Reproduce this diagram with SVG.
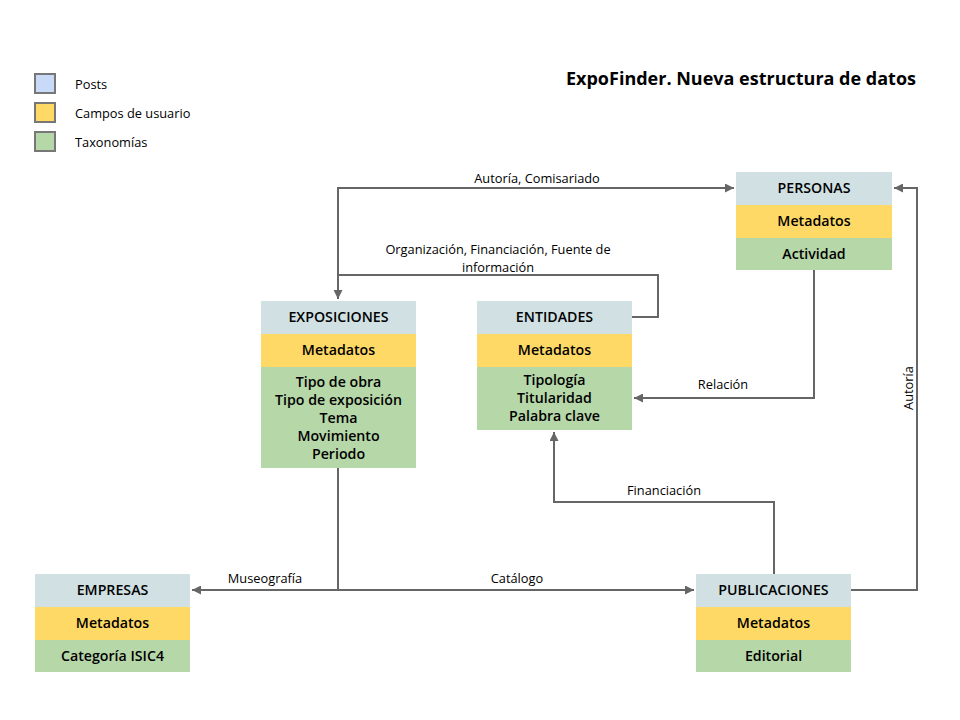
<svg xmlns="http://www.w3.org/2000/svg" width="960" height="720" viewBox="0 0 960 720">
<style>
.hd{fill:#d0e0e3}.md{fill:#ffd966}.tx{fill:#b6d7a8}
.nt{font-family:"Open Sans","DejaVu Sans",sans-serif;font-weight:600;font-size:14.2px;fill:#000;text-anchor:middle;dominant-baseline:central}
.lb{font-family:"Open Sans","DejaVu Sans",sans-serif;font-size:12.8px;fill:#000;text-anchor:middle}
.lg{font-family:"Open Sans","DejaVu Sans",sans-serif;font-size:12.8px;fill:#000;dominant-baseline:central}
.ln{fill:none;stroke:#666;stroke-width:2}
.ls{stroke:#777;stroke-width:2}
</style>
<defs>
<marker id="ah" viewBox="0 0 10 10" refX="10" refY="5" markerWidth="11" markerHeight="9" markerUnits="userSpaceOnUse" orient="auto">
<path d="M0,0 L10,5 L0,10 Z" fill="#666"/>
</marker>
</defs>
<rect width="960" height="720" fill="#fff"/>
<g id="legend">
<rect x="35" y="74" width="20" height="19" fill="#c9daf8" class="ls"/>
<rect x="35" y="103" width="20" height="19" fill="#ffd966" class="ls"/>
<rect x="35" y="132" width="20" height="19" fill="#b6d7a8" class="ls"/>
<text x="75" y="84" class="lg">Posts</text>
<text x="75" y="113" class="lg">Campos de usuario</text>
<text x="75" y="142" class="lg">Taxonomías</text>
</g>
<text id="title" x="916" y="85" font-family="'Open Sans','DejaVu Sans',sans-serif" font-weight="700" font-size="18" text-anchor="end">ExpoFinder. Nueva estructura de datos</text>
<g id="connectors">
<path class="ln" d="M338,275 L338,188 L734,188" marker-end="url(#ah)"/>
<path class="ln" d="M632,317 L658,317 L658,275 L338,275 L338,299" marker-end="url(#ah)"/>
<path class="ln" d="M851,590 L917,590 L917,188 L894,188" marker-end="url(#ah)"/>
<path class="ln" d="M814,270 L814,398 L634,398" marker-end="url(#ah)"/>
<path class="ln" d="M774,574 L774,502 L554,502 L554,432" marker-end="url(#ah)"/>
<path class="ln" d="M338,468 L338,590 L192,590" marker-end="url(#ah)"/>
<path class="ln" d="M338,590 L694,590" marker-end="url(#ah)"/>
<text x="537" y="183" class="lb">Autoría, Comisariado</text>
<text x="498" y="254" class="lb">Organización, Financiación, Fuente de</text>
<text x="498" y="271.5" class="lb">información</text>
<text x="723" y="389" class="lb">Relación</text>
<text x="664" y="495" class="lb">Financiación</text>
<text x="265" y="583" class="lb">Museografía</text>
<text x="517" y="583" class="lb">Catálogo</text>
<text class="lb" transform="translate(913,388) rotate(-90)">Autoría</text>
</g>
<g id="personas">
<rect x="736" y="172" width="156" height="33" class="hd"/>
<rect x="736" y="205" width="156" height="33" class="md"/>
<rect x="736" y="238" width="156" height="32" class="tx"/>
<text x="814" y="187.5" class="nt">PERSONAS</text>
<text x="814" y="220.5" class="nt">Metadatos</text>
<text x="814" y="253.5" class="nt">Actividad</text>
</g>
<g id="exposiciones">
<rect x="261" y="301" width="155" height="33" class="hd"/>
<rect x="261" y="334" width="155" height="33" class="md"/>
<rect x="261" y="367" width="155" height="101" class="tx"/>
<text x="338.5" y="316.5" class="nt">EXPOSICIONES</text>
<text x="338.5" y="349.5" class="nt">Metadatos</text>
<text x="338.5" y="381.5" class="nt">Tipo de obra</text>
<text x="338.5" y="399.5" class="nt">Tipo de exposición</text>
<text x="338.5" y="417.5" class="nt">Tema</text>
<text x="338.5" y="435.5" class="nt">Movimiento</text>
<text x="338.5" y="453.5" class="nt">Periodo</text>
</g>
<g id="entidades">
<rect x="477" y="301" width="155" height="33" class="hd"/>
<rect x="477" y="334" width="155" height="33" class="md"/>
<rect x="477" y="367" width="155" height="63" class="tx"/>
<text x="554.5" y="316.5" class="nt">ENTIDADES</text>
<text x="554.5" y="349.5" class="nt">Metadatos</text>
<text x="554.5" y="379.5" class="nt">Tipología</text>
<text x="554.5" y="397.5" class="nt">Titularidad</text>
<text x="554.5" y="415.5" class="nt">Palabra clave</text>
</g>
<g id="empresas">
<rect x="35" y="574" width="155" height="33" class="hd"/>
<rect x="35" y="607" width="155" height="33" class="md"/>
<rect x="35" y="640" width="155" height="32" class="tx"/>
<text x="112.5" y="589.5" class="nt">EMPRESAS</text>
<text x="112.5" y="622.5" class="nt">Metadatos</text>
<text x="112.5" y="655.5" class="nt">Categoría ISIC4</text>
</g>
<g id="publicaciones">
<rect x="696" y="574" width="155" height="33" class="hd"/>
<rect x="696" y="607" width="155" height="33" class="md"/>
<rect x="696" y="640" width="155" height="32" class="tx"/>
<text x="773.5" y="589.5" class="nt">PUBLICACIONES</text>
<text x="773.5" y="622.5" class="nt">Metadatos</text>
<text x="773.5" y="655.5" class="nt">Editorial</text>
</g>
</svg>
